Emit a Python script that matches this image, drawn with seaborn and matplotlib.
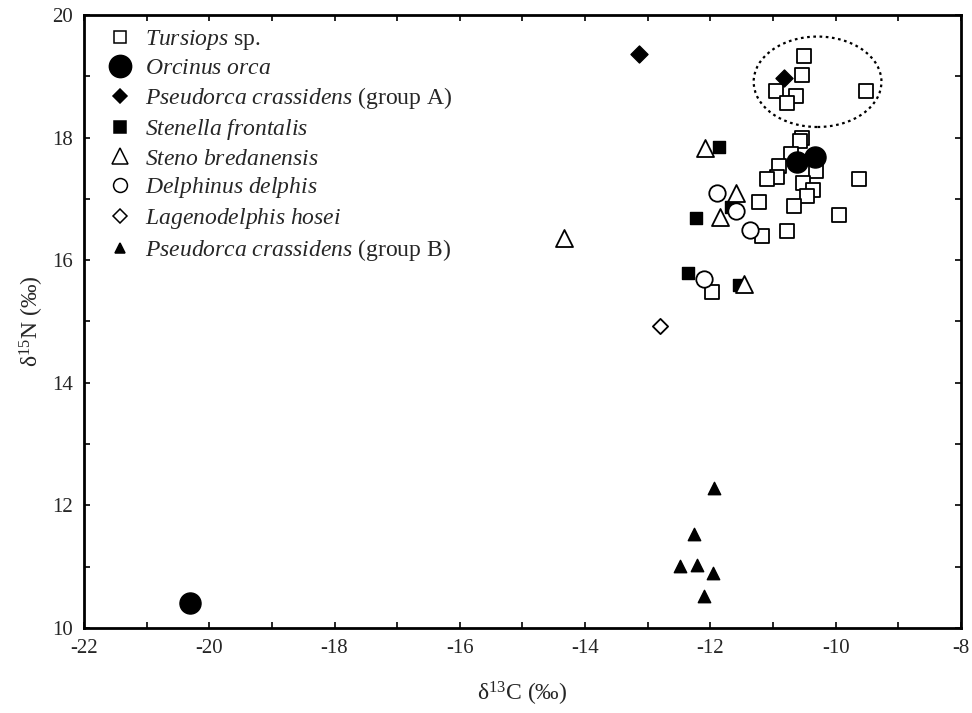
import numpy as np
import pandas as pd
import seaborn as sns
import matplotlib
matplotlib.use("Agg")
import matplotlib.pyplot as plt
from matplotlib.lines import Line2D
from matplotlib.patches import Ellipse
from matplotlib.ticker import MultipleLocator

# ---- data ----
tursiops_c = [-10.50, -10.54, -10.95, -10.64, -10.78, -9.51, -10.54, -10.57, -10.71, -10.31,
              -10.91, -10.94, -11.09, -9.63, -10.52, -10.37, -10.46, -11.22, -10.67, -9.94,
              -11.18, -10.78, -11.98]
tursiops_n = [19.33, 19.02, 18.76, 18.68, 18.56, 18.76, 18.00, 17.94, 17.73, 17.45,
              17.53, 17.35, 17.33, 17.32, 17.26, 17.15, 17.04, 16.95, 16.89, 16.74,
              16.40, 16.48, 15.48]
orca_c = [-20.31, -10.62, -10.33]
orca_n = [10.41, 17.60, 17.69]
pseudA_c = [-13.14, -10.83]
pseudA_n = [19.36, 18.98]
stenella_c = [-11.86, -11.67, -12.23, -12.36, -11.54]
stenella_n = [17.85, 16.86, 16.69, 15.79, 15.59]
steno_c = [-12.08, -11.59, -11.85, -11.46, -14.33]
steno_n = [17.83, 17.09, 16.70, 15.61, 16.37]
delphinus_c = [-11.90, -11.59, -11.37, -12.10]
delphinus_n = [17.09, 16.80, 16.50, 15.70]
lageno_c = [-12.81]
lageno_n = [14.93]
pseudB_c = [-11.94, -12.27, -12.48, -12.21, -11.96, -12.11]
pseudB_n = [12.28, 11.54, 11.01, 11.02, 10.89, 10.53]

species = ["Tursiops", "Orcinus", "PseudA", "Stenella", "Steno", "Delphinus", "Lageno", "PseudB"]
labels = [r"$\it{Tursiops}$ sp.",
          r"$\it{Orcinus\ orca}$",
          r"$\it{Pseudorca\ crassidens}$ (group A)",
          r"$\it{Stenella\ frontalis}$",
          r"$\it{Steno\ bredanensis}$",
          r"$\it{Delphinus\ delphis}$",
          r"$\it{Lagenodelphis\ hosei}$",
          r"$\it{Pseudorca\ crassidens}$ (group B)"]
xs = [tursiops_c, orca_c, pseudA_c, stenella_c, steno_c, delphinus_c, lageno_c, pseudB_c]
ys = [tursiops_n, orca_n, pseudA_n, stenella_n, steno_n, delphinus_n, lageno_n, pseudB_n]

df = pd.concat([pd.DataFrame({"d13C": x, "d15N": y, "sp": s}) for x, y, s in zip(xs, ys, species)],
               ignore_index=True)

# ---- styles ----
style = {
    "Tursiops":  dict(marker="s", s=95,  fc="white", ec="black", lw=1.3, lms=8,  lfill=False),
    "Orcinus":   dict(marker="o", s=230, fc="black", ec="black", lw=1.0, lms=16, lfill=True),
    "PseudA":    dict(marker="D", s=75,  fc="black", ec="black", lw=1.0, lms=7,  lfill=True),
    "Stenella":  dict(marker="s", s=70,  fc="black", ec="black", lw=1.0, lms=8,  lfill=True),
    "Steno":     dict(marker="^", s=150, fc="white", ec="black", lw=1.3, lms=11, lfill=False),
    "Delphinus": dict(marker="o", s=140, fc="white", ec="black", lw=1.3, lms=10, lfill=False),
    "Lageno":    dict(marker="D", s=60,  fc="white", ec="black", lw=1.3, lms=7,  lfill=False),
    "PseudB":    dict(marker="^", s=80,  fc="black", ec="black", lw=1.0, lms=7,  lfill=True),
}

sns.set_style("white")
plt.rcParams["font.family"] = ["Liberation Serif", "DejaVu Serif"]
plt.rcParams["mathtext.fontset"] = "custom"
plt.rcParams["mathtext.rm"] = "Liberation Serif"
plt.rcParams["mathtext.it"] = "Liberation Serif:italic"
plt.rcParams["mathtext.bf"] = "Liberation Serif:bold"
plt.rcParams["axes.unicode_minus"] = False

fig = plt.figure(figsize=(9.72, 7.13), dpi=100)
ax = fig.add_axes([0.0864, 0.1192, 0.9023, 0.8598])

for sp in species:
    st = style[sp]
    sub = df[df["sp"] == sp]
    sns.scatterplot(data=sub, x="d13C", y="d15N", ax=ax, marker=st["marker"], s=st["s"],
                    facecolor=st["fc"], edgecolor=st["ec"], linewidth=st["lw"], legend=False,
                    zorder=3)

# dotted ellipse around group
ax.add_patch(Ellipse((-10.29, 18.91), 2.04, 1.475, fill=False, ls=(0, (1.2, 1.6)),
                     lw=1.6, ec="black", zorder=2))

ax.set_xlim(-22, -8)
ax.set_ylim(10, 20)
ax.xaxis.set_major_locator(MultipleLocator(2))
ax.xaxis.set_minor_locator(MultipleLocator(1))
ax.yaxis.set_major_locator(MultipleLocator(2))
ax.yaxis.set_minor_locator(MultipleLocator(1))
ax.tick_params(which="both", direction="in", top=True, right=True, bottom=True, left=True,
               length=4, width=1.2, color="black", labelsize=15, pad=8)
for sp_ in ax.spines.values():
    sp_.set_visible(True)
    sp_.set_linewidth(2.0)
    sp_.set_color("black")

ax.set_xlabel(r"δ$^{13}$C (‰)", fontsize=17, labelpad=16)
ax.set_ylabel(r"δ$^{15}$N (‰)", fontsize=17, labelpad=4)

handles = []
for sp in species:
    st = style[sp]
    handles.append(Line2D([], [], ls="none", marker=st["marker"], markersize=st["lms"],
                          markerfacecolor=st["fc"] if st["lfill"] else "white",
                          markeredgecolor="black", markeredgewidth=1.1))
leg = ax.legend(handles, labels, loc="upper left", bbox_to_anchor=(0.012, 1.002), frameon=False,
                fontsize=17, handlelength=1.0, handletextpad=0.55, labelspacing=0.25,
                borderaxespad=0.2)

fig.savefig("out.png", dpi=100, facecolor="white")
